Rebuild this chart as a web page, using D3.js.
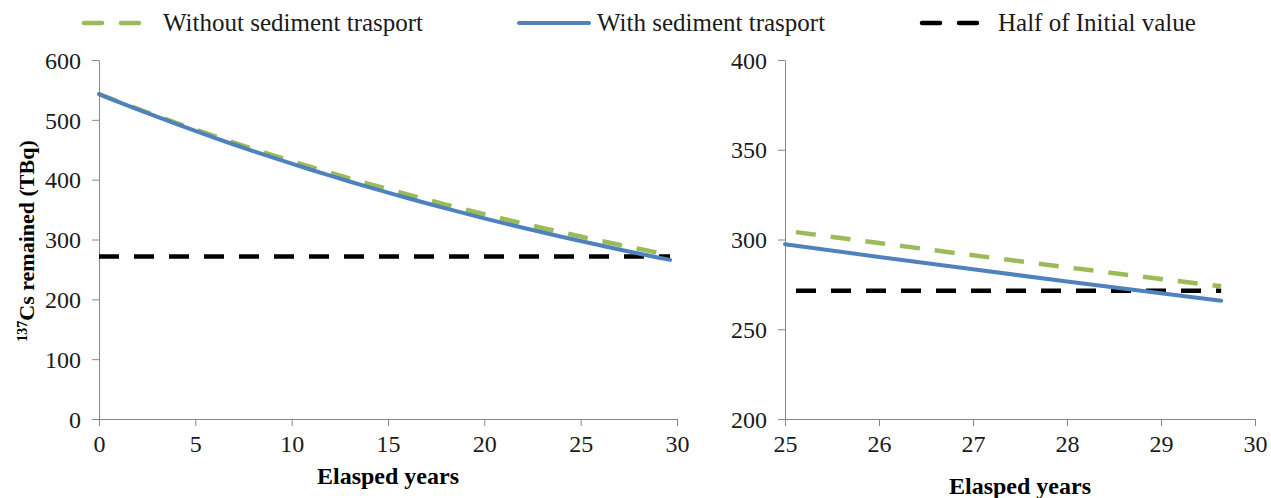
<!DOCTYPE html>
<html><head><meta charset="utf-8">
<script src="https://cdn.jsdelivr.net/npm/d3@7"></script>
<style>
body{margin:0;background:#fff;}
svg{display:block;}
svg text{font-family:"Liberation Serif","Times New Roman",serif !important;}
</style></head>
<body><svg id="c" width="1271" height="498"></svg>
<script>
const years = [0,1,2,3,4,5,6,7,8,9,10,11,12,13,14,15,16,17,18,19,20,21,22,23,24,25,26,27,28,29,29.64];
const withoutSediment = [543,530.6,518.5,506.7,495.1,483.8,472.8,462.0,451.4,441.1,431.1,421.2,411.6,402.2,393.1,384.1,375.3,366.8,358.4,350.2,342.2,334.4,326.8,319.3,312.0,304.9,298.0,291.2,284.5,278.0,273.9];
const withSediment = [543,530.1,517.5,505.2,493.1,481.4,469.9,458.8,447.8,437.2,426.8,416.6,406.7,397.0,387.6,378.4,369.4,360.6,352.0,343.6,335.4,327.4,319.6,312.0,304.6,297.4,290.3,283.4,276.6,270.0,265.9];
const halfYears = [0,29.64];
const halfValue = [271.5,271.5];
const leftXTicks = [0,5,10,15,20,25,30];
const leftYTicks = [0,100,200,300,400,500,600];
const rightXTicks = [25,26,27,28,29,30];
const rightYTicks = [200,250,300,350,400];
const legendLabels = ["Without sediment trasport","With sediment trasport","Half of Initial value"];

const colors = {without:"#9BBB59", with:"#4F81BD", half:"#000"};
const svg = d3.select("#c");
const SERIF = "Liberation Serif";

function panel(opts){
  const x = d3.scaleLinear().domain(opts.xDomain).range([opts.x0,opts.x1]);
  const y = d3.scaleLinear().domain(opts.yDomain).range([opts.y1,opts.y0]);
  const g = svg.append("g");
  const xa = g.append("g").attr("transform",`translate(0,${opts.y1})`)
    .call(d3.axisBottom(x).tickValues(opts.xTicks).tickSize(7).tickSizeOuter(0).tickFormat(d3.format("d")));
  const ya = g.append("g").attr("transform",`translate(${opts.x0},0)`)
    .call(d3.axisLeft(y).tickValues(opts.yTicks).tickSize(7).tickSizeOuter(0).tickFormat(d3.format("d")));
  [xa,ya].forEach(a=>{
    a.attr("font-family",SERIF).attr("font-size",24);
    a.select(".domain").attr("stroke","#868686").attr("stroke-width",1);
    a.selectAll(".tick line").attr("stroke","#868686");
    a.selectAll(".tick text").attr("fill","#1a1a1a").attr("font-family",SERIF).attr("font-size",24);
  });
  xa.selectAll(".tick text").attr("dy","0.95em");
  ya.selectAll(".tick text").attr("x",-18).attr("dy","0.34em");

  const sel = opts.filter;
  const line = d3.line().x(d=>x(d[0])).y(d=>y(d[1]));
  const pts = (xs,vs)=>xs.map((t,i)=>[t,vs[i]]).filter(d=>sel(d[0]));
  const halfPts = opts.half;
  g.append("path").attr("d",line(halfPts)).attr("fill","none").attr("stroke",colors.half)
    .attr("stroke-width",4.5).attr("stroke-dasharray","20,15").attr("stroke-dashoffset",opts.dashOff);
  g.append("path").attr("d",line(pts(years,withoutSediment))).attr("fill","none").attr("stroke",colors.without)
    .attr("stroke-width",4.5).attr("stroke-dasharray","20,15").attr("stroke-dashoffset",opts.dashOff);
  g.append("path").attr("d",line(pts(years,withSediment))).attr("fill","none").attr("stroke",colors.with)
    .attr("stroke-width",4).attr("stroke-linecap","round");

  g.append("text").attr("x",(opts.x0+opts.x1)/2).attr("y",opts.titleY).attr("text-anchor","middle")
    .attr("font-family",SERIF).attr("font-size",24).attr("font-weight","bold").text("Elasped years");
  return g;
}

panel({xDomain:[0,30],yDomain:[0,600],x0:99,x1:677,y0:60,y1:419,xTicks:leftXTicks,yTicks:leftYTicks,
  filter:()=>true, half:halfYears.map((t,i)=>[t,halfValue[i]]), dashOff:0, titleY:484});
panel({xDomain:[25,30],yDomain:[200,400],x0:785,x1:1255,y0:60,y1:419,xTicks:rightXTicks,yTicks:rightYTicks,
  filter:t=>t>=25, half:[[25,halfValue[0]],[halfYears[1],halfValue[1]]], dashOff:24, titleY:494});

// y-axis title
const yl = svg.append("text").attr("transform","translate(34,241) rotate(-90)").attr("text-anchor","middle")
  .attr("font-family",SERIF).attr("font-size",22).attr("font-weight","bold");
yl.append("tspan").attr("font-size",14).attr("dy","-7").text("137");
yl.append("tspan").attr("dy","7").text("Cs remained (TBq)");

// legend
const lg = svg.append("g");
const items = [
  {x1:84,x2:139,tx:163,color:colors.without,dash:"18,19",w:4.5,label:legendLabels[0]},
  {x1:519,x2:589,tx:597,color:colors.with,dash:null,w:4,label:legendLabels[1]},
  {x1:922,x2:978,tx:998,color:colors.half,dash:"18,19",w:4.5,label:legendLabels[2]}
];
items.forEach(it=>{
  const l = lg.append("line").attr("x1",it.x1).attr("x2",it.x2).attr("y1",23).attr("y2",23)
    .attr("stroke",it.color).attr("stroke-width",it.w).attr("stroke-linecap","round");
  if(it.dash) l.attr("stroke-dasharray",it.dash);
  lg.append("text").attr("x",it.tx).attr("y",31).attr("font-family",SERIF).attr("font-size",25)
    .attr("fill","#1a1a1a").text(it.label);
});
</script></body></html>
